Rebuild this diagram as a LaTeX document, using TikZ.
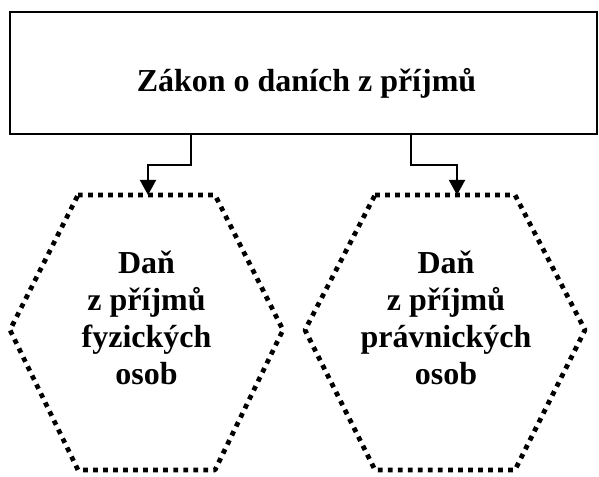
\documentclass[tikz,border=0pt]{standalone}
\usepackage{fontspec}
\setmainfont{Liberation Serif}
\usepackage{tikz}
\usepackage{tkz-euclide}
\usetikzlibrary{arrows.meta}

\tikzset{
  tecky/.style={color=black, line width=2.7pt, dash pattern=on 2.7pt off 3.0pt, line cap=butt},
  sipka/.style={line width=1.1pt, -{Triangle[length=0.3cm,width=0.32cm]}},
  napis/.style={font=\fontsize{18.2}{21}\selectfont\bfseries, align=center, inner sep=0pt},
}

\begin{document}
\begin{tikzpicture}
	\useasboundingbox (0,0) rectangle (11.98,-9.54);
	% zakon
	\tkzDefPoints{0.2/-0.24/R1,11.94/-2.68/R2}
	\draw[line width=1.1pt] (R1) rectangle (R2);
	\node[napis,anchor=base] (zakon) at (6.13,-1.84) {Zákon o daních z příjmů};
	% sestiuhelniky
	\tkzDefPoints{1.56/-3.9/F1,4.3/-3.9/F2,5.66/-6.6/F3,4.3/-9.4/F4,1.56/-9.4/F5,0.2/-6.6/F6}
	\tkzDefPoints{7.5/-3.9/P1,10.3/-3.9/P2,11.7/-6.6/P3,10.3/-9.4/P4,7.5/-9.4/P5,6.1/-6.6/P6}
	\tkzDrawPolygon[tecky](F1,F2,F3,F4,F5,F6)
	\tkzDrawPolygon[tecky](P1,P2,P3,P4,P5,P6)
	\node[napis] (dpfo) at (2.93,-6.36) {Daň\\z příjmů\\fyzických\\osob};
	\node[napis] (dppo) at (8.92,-6.36) {Daň\\z příjmů\\právnických\\osob};
	% sipky
	\tkzDefPoints{3.82/-2.68/S1,2.96/-3.9/T1,8.22/-2.68/S2,9.14/-3.9/T2}
	\draw[sipka] (S1) -- ++(0,-0.62) -| (T1);
	\draw[sipka] (S2) -- ++(0,-0.62) -| (T2);
\end{tikzpicture}
\end{document}
